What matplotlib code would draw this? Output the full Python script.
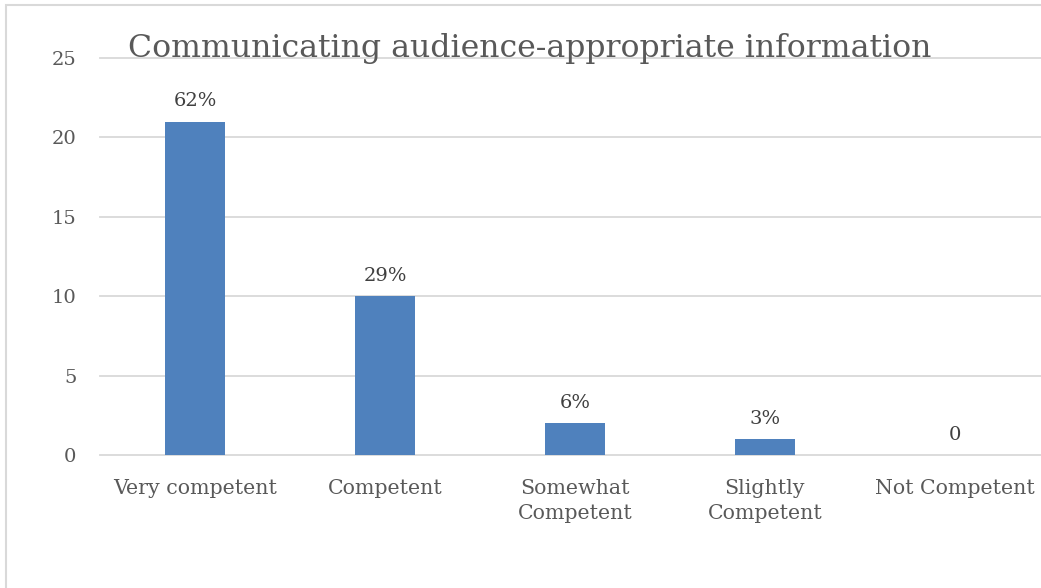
import matplotlib
matplotlib.use("Agg")
import matplotlib.pyplot as plt
from matplotlib.patches import Rectangle

categories = ["Very competent", "Competent", "Somewhat\nCompetent",
              "Slightly\nCompetent", "Not Competent"]
counts = [21, 10, 2, 1, 0]
labels = ["62%", "29%", "6%", "3%", "0"]
y_ticks = [0, 5, 10, 15, 20, 25]

text_color = "#595959"
bar_color = "#4F81BD"
grid_color = "#D9D9D9"

plt.rcParams["font.family"] = ["DejaVu Serif"]

fig = plt.figure(figsize=(10.41, 5.88), dpi=100)
# plot area runs a little past the right edge of the canvas
ax = fig.add_axes([100 / 1041, 1 - 455 / 588, 950 / 1041, 397 / 588])

x = range(len(categories))
ax.bar(x, counts, width=0.315, color=bar_color, zorder=3)
for xi, c, lab in zip(x, counts, labels):
    ax.annotate(lab, (xi, c), xytext=(0, 8), textcoords="offset points",
                ha="center", va="bottom", fontsize=14, color="#404040")

ax.set_xlim(-0.5, len(categories) - 0.5)
ax.set_ylim(0, 25)
ax.set_yticks(y_ticks)
ax.set_xticks(list(x))
ax.set_xticklabels(categories, fontsize=14.8, color=text_color, linespacing=1.45)
ax.tick_params(axis="y", labelsize=14, labelcolor=text_color, length=0, pad=17)
ax.tick_params(axis="x", length=0, pad=17)
ax.grid(axis="y", color=grid_color, linewidth=1.3, zorder=0)
# keep the top and bottom gridlines at full thickness
for gl in ax.yaxis.get_gridlines():
    gl.set_clip_on(False)
for s in ax.spines.values():
    s.set_visible(False)

fig.text(128 / 1041, 1 - 48 / 588, "Communicating audience-appropriate information",
         fontsize=22.7, color=text_color, ha="left", va="center", zorder=5)

# outer chart frame
fig.patches.append(Rectangle((6 / 1041, -0.1), 1.2, 1 - 5 / 588 + 0.1,
                             transform=fig.transFigure, fill=False,
                             edgecolor="#D9D9D9", linewidth=1.5))

fig.savefig("out.png", dpi=100)
